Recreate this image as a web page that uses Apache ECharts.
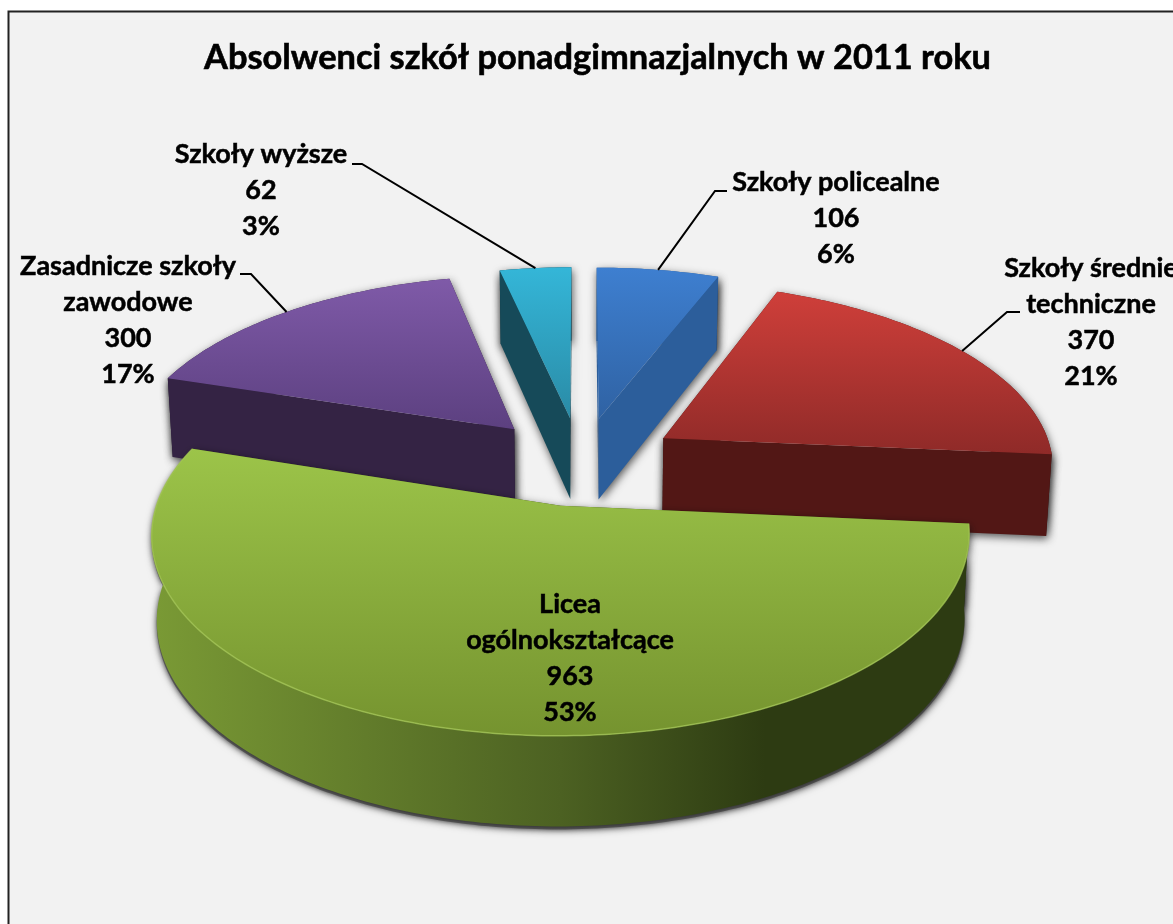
<!DOCTYPE html>
<html>
<head>
<meta charset="utf-8">
<style>html,body{margin:0;padding:0;background:#fff;overflow:hidden}#c{width:1173px;height:924px}</style>
<script src="https://cdn.jsdelivr.net/npm/echarts@6/dist/echarts.min.js"></script>
</head>
<body>
<div id="c"></div>
<script>
var titleText = 'Absolwenci szkół ponadgimnazjalnych w 2011 roku';
var categories = ['Szkoły policealne', 'Szkoły średnie\ntechniczne', 'Licea\nogólnokształcące', 'Zasadnicze szkoły\nzawodowe', 'Szkoły wyższe'];
var values = [106, 370, 963, 300, 62];

// styling, per category
var topColors = [['#3e7fd0', '#2f62a3'], ['#cf3f3a', '#8f2a28'], ['#9cc449', '#75932f'], ['#7f5aa8', '#5c4080'], ['#34b6d8', '#2a8ba6']];
var cutColors = ['#2c5e9b', '#521715', '#3f5218', '#342344', '#164a59'];
var sideColors = [['#2c5e9b', '#2c5e9b'], ['#521715', '#521715'], ['#7a9a35', '#2d3b12'], ['#342344', '#342344'], ['#164a59', '#164a59']];
var labelCentres = [[836, 218.5], [1091, 322.5], [570, 658.5], [128, 320.5], [261, 190.5]];
var leaderElbows = [[[715, 191], [727, 191]], [[1007, 312], [1020, 312]], null, [[251, 274], [240, 274]], [[362, 164], [352, 164]]];
var sliceShiftX = [3, 6, 1, -3, 1];

// 3D view of the pie
var view = { x0: 579, y0: 461, f: 391, g: 183.7, p: 0.141, explode: 0.24 };
var total = values.reduce(function (a, b) { return a + b; }, 0);

function project(theta, radius, mid, shift) {
  var u = radius * Math.sin(theta) + view.explode * Math.sin(mid);
  var v = -radius * Math.cos(theta) - view.explode * Math.cos(mid);
  var w = 1 / (1 - view.p * v);
  return { top: [view.x0 + shift + view.f * u * w, view.y0 + view.g * v * w], drop: 82 + 7 * v, v: v, shift: shift };
}
function lower(P) {
  var c = view.x0 + P.shift;
  return [c + (P.top[0] - c) * 0.988, P.top[1] + P.drop];
}
function vGrad(c) { return new echarts.graphic.LinearGradient(0, 0, 0, 1, [{ offset: 0, color: c[0] }, { offset: 1, color: c[1] }]); }
function hGrad(c) { return new echarts.graphic.LinearGradient(0, 0, 1, 0, [{ offset: 0, color: c[0] }, { offset: 0.5, color: '#4c6122' }, { offset: 0.75, color: c[1] }, { offset: 1, color: c[1] }]); }

var shadow = { shadowBlur: 8, shadowColor: 'rgba(0,0,0,0.65)', shadowOffsetX: 1, shadowOffsetY: 3 };

function renderSlice(params, api) {
  var i = params.dataIndex, before = 0;
  for (var k = 0; k < i; k++) before += values[k];
  var val = api.value(0), shift = sliceShiftX[i];
  var a = before / total * Math.PI * 2, b = (before + val) / total * Math.PI * 2, mid = (a + b) / 2;
  var base = Math.round((1 - Math.cos(mid)) * 100) * 10;
  var rim = [], n = Math.max(8, Math.round((b - a) * 60));
  for (var t = 0; t <= n; t++) rim.push(project(a + (b - a) * t / n, 1, mid, shift));
  var apex = project(0, 0, mid, shift);
  var topPts = [apex.top].concat(rim.map(function (r) { return r.top; }));
  var sidePts = rim.map(function (r) { return r.top; }).concat(rim.slice().reverse().map(lower));
  function cut(r) { return { type: 'polygon', shape: { points: [apex.top, r.top, lower(r), lower(apex)] }, style: Object.assign({ fill: cutColors[i] }, shadow) }; }
  var isFront = Math.cos(mid) < 0;
  var side = { type: 'polygon', shape: { points: sidePts }, style: Object.assign({ fill: isFront ? hGrad(sideColors[i]) : sideColors[i][0] }, shadow) };
  // the cut face further from the viewer is painted first
  var cuts = rim[0].v < rim[n].v ? [cut(rim[0]), cut(rim[n])] : [cut(rim[n]), cut(rim[0])];
  var topFace = { type: 'polygon', shape: { points: topPts }, style: { fill: vGrad(topColors[i]) } };
  var list = isFront ? cuts.concat([side, topFace]) : [side].concat(cuts, [topFace]);
  if (isFront) {
    // soft grey band under the front wall
    list.unshift({
      type: 'polygon', shape: { points: sidePts.map(function (p) { return [p[0], p[1] + 3]; }) },
      style: { fill: 'rgba(110,110,110,0.85)', shadowBlur: 5, shadowColor: 'rgba(90,90,90,0.8)' }
    });
    list.push({ type: 'polyline', shape: { points: rim.map(function (r) { return r.top; }) }, style: { fill: null, stroke: '#a3c654', lineWidth: 1.5, opacity: 0.75 } });
  }
  list.forEach(function (el, idx) { el.z2 = base + idx; });
  var mp = project(mid, 1, mid, shift).top, elbow = leaderElbows[i];
  if (elbow) {
    list.push({ type: 'polyline', z2: 3000, shape: { points: [mp].concat(elbow) }, style: { fill: null, stroke: '#000', lineWidth: 2 } });
  }
  var pct = Math.round(val / total * 100);
  list.push({
    type: 'text', z2: 3001,
    style: {
      text: categories[i] + '\n' + val + '\n' + pct + '%',
      x: labelCentres[i][0], y: labelCentres[i][1],
      fill: '#000', stroke: '#000', lineWidth: 0.5,
      font: 'bold 27px Lato', align: 'center', verticalAlign: 'middle', lineHeight: 36
    }
  });
  return { type: 'group', children: list };
}

var chart = echarts.init(document.getElementById('c'), null, { renderer: 'canvas', width: 1173, height: 924 });
chart.setOption({
  animation: false,
  backgroundColor: '#ffffff',
  title: { text: titleText, left: 597, top: 36, textAlign: 'center', textStyle: { fontFamily: 'Lato', fontWeight: 'bold', fontSize: 34.4, color: '#000', textBorderColor: '#000', textBorderWidth: 0.6 } },
  graphic: [{ type: 'rect', z: -10, silent: true, shape: { x: 8.5, y: 11.5, width: 1300, height: 1000 }, style: { fill: '#f2f2f2', stroke: '#222', lineWidth: 2 } }],
  series: [{
    type: 'custom',
    coordinateSystem: 'none',
    renderItem: renderSlice,
    data: categories.map(function (c, i) { return { name: c, value: values[i] }; })
  }]
});
chart.setOption({ title: { left: 592.5 } });
</script>
</body>
</html>
